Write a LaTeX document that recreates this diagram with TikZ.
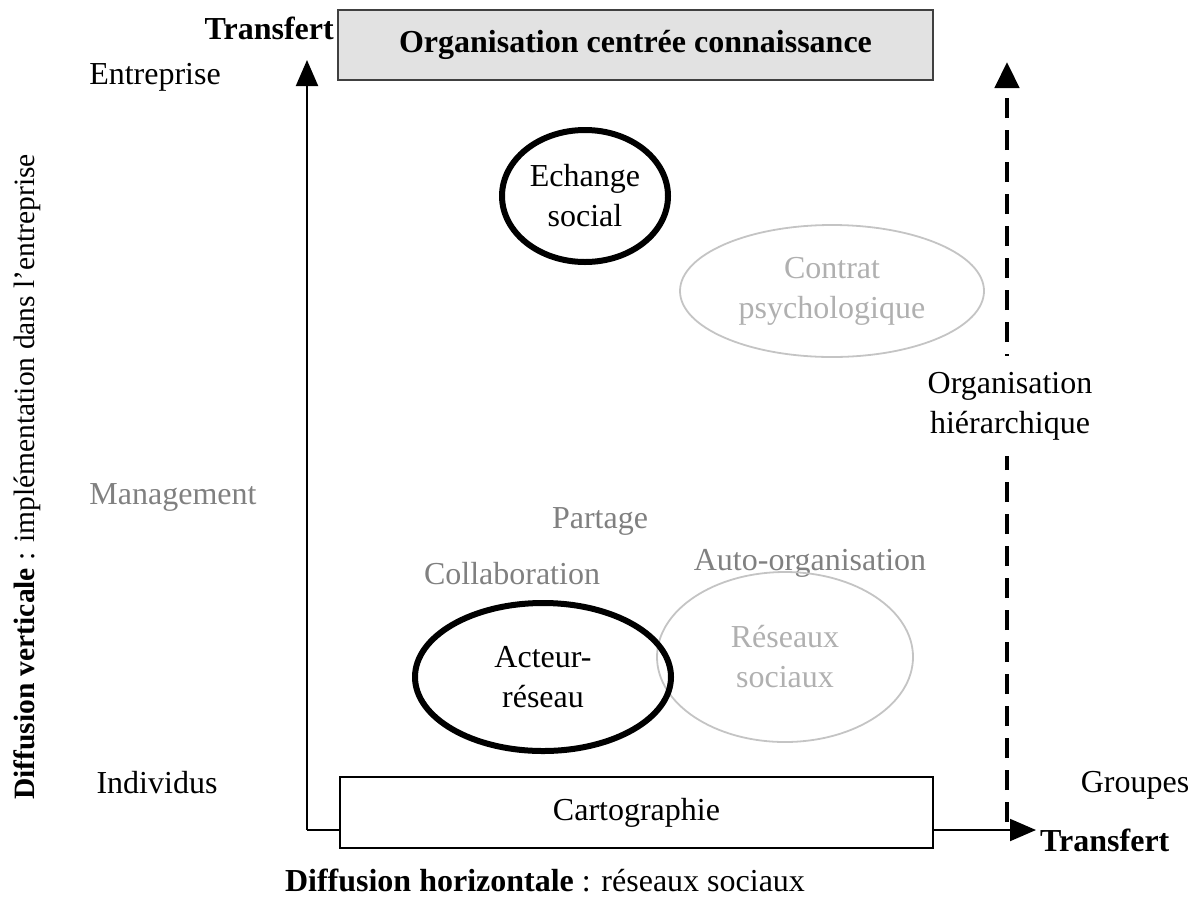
\documentclass[tikz,border=0pt]{standalone}
\usepackage{fontspec}
\setmainfont{Liberation Serif}
\usetikzlibrary{arrows.meta,shapes.geometric}
\definecolor{midgray}{HTML}{808080}
\definecolor{lightgray2}{HTML}{B0B0B0}
\definecolor{ellgray}{HTML}{C4C4C4}
\definecolor{boxfill}{HTML}{E2E2E2}
\tikzset{
  txt/.style={font=\fontsize{32}{40}\selectfont, inner sep=0pt, align=center},
  gtxt/.style={txt, text=midgray},
  bold/.style={txt, font=\fontsize{32}{40}\selectfont\bfseries},
  thickell/.style={ellipse, draw=black, line width=6pt, inner sep=0pt},
  grayell/.style={ellipse, draw=ellgray, line width=1.8pt, inner sep=0pt, text=lightgray2},
  axisline/.style={line width=2pt, -{Triangle[length=26pt,width=22pt]}},
  dashline/.style={line width=4.5pt, dash pattern=on 20pt off 12pt, -{Triangle[length=26pt,width=24pt]}},
  boxst/.style={draw=black, line width=1.8pt, inner sep=0pt}
}
\begin{document}
\begin{tikzpicture}[x=1pt,y=-1pt]
\useasboundingbox (0,0) rectangle (1188,906);
% axes
\coordinate (o) at (307,830);
\coordinate (vt) at (307,60);
\coordinate (ht) at (1036,830);
\draw[axisline] (o) -- (vt);
\draw[axisline] (o) -- (ht);
\coordinate (db) at (1007,822);
\coordinate (dt) at (1007,62);
\draw[dashline] (db) -- (dt);
% boxes
\node[boxst, draw=black!75, fill=boxfill, minimum width=595pt, minimum height=70pt, bold] (top) at (635.5,45) {Organisation centrée connaissance};
\node[boxst, fill=white, minimum width=593pt, minimum height=71pt, txt] (carto) at (636.5,812.5) {Cartographie};
% labels
\node[bold, anchor=east] (tr1) at (334,28) {Transfert};
\node[bold, anchor=west] (tr2) at (1040,840) {Transfert};
\node[txt] (ent) at (155,77) {Entreprise};
\node[txt] (ind) at (157,783) {Individus};
\node[txt] (grp) at (1135,785) {Groupes};
\node[gtxt] (mgmt) at (173,497) {Management};
\node[txt, fill=white, inner ysep=16pt, inner xsep=2pt] (orgh) at (1010,406) {Organisation\\hiérarchique};
\node[gtxt] (part) at (600,521) {Partage};
\node[gtxt] (coll) at (512,574) {Collaboration};
\node[gtxt] (auto) at (810,563) {Auto-organisation};
\node[txt, font=\fontsize{29.5}{36}\selectfont, rotate=90] (dv) at (27,477) {\textbf{Diffusion verticale} : implémentation dans l’entreprise};
\node[txt] (dh) at (545,880) {\textbf{Diffusion horizontale} : réseaux sociaux};
% ellipses
\node[grayell, minimum width=304pt, minimum height=132pt, txt, text=lightgray2] (cp) at (832,291) {Contrat\\psychologique};
\node[thickell, minimum width=166pt, minimum height=132pt, txt] (es) at (585,196) {Echange\\social};
\node[grayell, minimum width=256pt, minimum height=170pt, txt, text=lightgray2] (rs) at (785,657) {Réseaux\\sociaux};
\node[thickell, minimum width=256pt, minimum height=148pt, txt] (ar) at (543,677) {Acteur-\\réseau};
\end{tikzpicture}
\end{document}
